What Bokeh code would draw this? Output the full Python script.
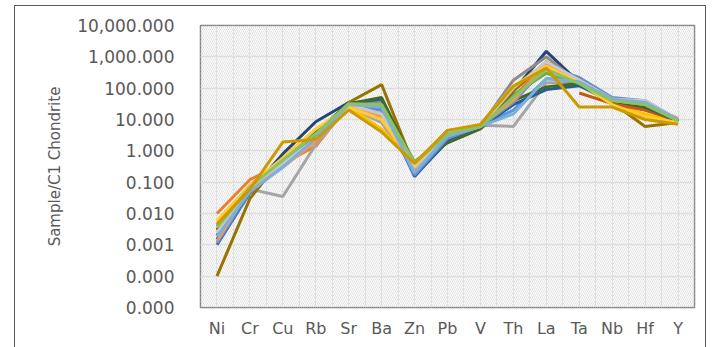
from bokeh.plotting import figure
from bokeh.models import (Range1d, FixedTicker, NumeralTickFormatter, BoxAnnotation)
from bokeh.embed import file_html
from bokeh.resources import INLINE

elements = ["Ni", "Cr", "Cu", "Rb", "Sr", "Ba", "Zn", "Pb", "V", "Th", "La", "Ta", "Nb", "Hf", "Y"]
y_ticks = [1e-5, 1e-4, 1e-3, 1e-2, 1e-1, 1, 10, 100, 1000, 10000]

nan = float("nan")
s01 = [0.0010, 0.045, 0.35, 2.5, 30, 25, 0.15, 2.2, 6.0, 40, 600, 150, 40, 30, 9]
s02 = [0.010, 0.12, 0.40, 1.4, 30, 10, 0.30, 4.5, 6.0, 50, 700, 180, 35, 20, 10]
s03 = [0.003, 0.06, 0.035, 1.6, 25, 8, 0.25, 3.0, 6.5, 6.0, 150, 150, 45, 37, 9]
s04 = [0.005, 0.06, 0.5, 4.0, 25, 5, 0.4, 3.5, 6.5, 100, 600, 150, 30, 15, 8]
s05 = [0.0012, 0.05, 0.4, 2.5, 28, 30, 0.18, 2.5, 6.0, 20, 200, 200, 45, 35, 9]
s06 = [0.003, 0.07, 0.45, 3.0, 30, 35, 0.45, 3.0, 5.5, 60, 300, 120, 35, 25, 8]
s07 = [0.002, 0.05, 0.8, 8.5, 35, 20, 0.2, 2.0, 6.0, 80, 1500, 150, 40, 25, 9]
s08 = [0.002, 0.06, 0.4, 2.0, 30, 15, 0.2, 3.5, 6.0, 30, nan, 70, 32, 20, 9]
s09 = [0.004, 0.08, 0.5, 3.0, 30, 40, 0.25, 2.5, 6.0, 180, 1000, 150, 40, 30, 9]
s10 = [0.0001, 0.03, 0.6, 3.0, 35, 130, 0.3, 3.0, 6.0, 80, 700, 150, 35, 6, 8]
s11 = [0.0015, 0.05, 0.4, 3.0, 32, 45, 0.16, 2.0, 5.5, 30, 90, 120, 40, 25, 9]
s12 = [0.003, 0.06, 0.5, 4.0, 32, 50, 0.35, 1.8, 5.0, 40, 110, 140, 40, 25, 9]
s13 = [0.002, 0.05, 0.35, 2.2, 28, 20, 0.17, 2.5, 6.0, 35, 500, 220, 50, 40, 10]
s14 = [0.0013, 0.06, 0.3, 2.0, 30, 12, 0.25, 4.0, 6.5, 40, 600, 150, 40, 30, 11]
s15 = [0.0025, 0.07, 0.4, 2.5, 30, 15, 0.3, 3.0, 6.0, 100, 700, 180, 45, 40, 10]
s16 = [0.006, 0.08, 0.6, 5.0, 25, 10, 0.35, 4.0, 7.0, 120, 500, 150, 30, 12, 8]
s17 = [0.0018, 0.05, 0.3, 2.5, 30, 25, 0.2, 3.0, 6.0, 15, 200, 160, 45, 35, 10]
s18 = [0.0035, 0.07, 0.5, 3.5, 32, 30, 0.4, 3.5, 6.0, 50, 400, 140, 40, 30, 9]
s19 = [0.0045, 0.06, 1.9, 2.3, 20, 4, 0.4, 4.5, 7.0, 115, 440, 25, 25, 10, 7]

series = [s01, s02, s03, s04, s05, s06, s07, s08, s09, s10,
          s11, s12, s13, s14, s15, s16, s17, s18, s19]
colors = ["#4472C4", "#ED7D31", "#A5A5A5", "#FFC000", "#5B9BD5", "#70AD47",
          "#264478", "#C55A11", "#8C8C8C", "#997300", "#255E91", "#43682B",
          "#698ED0", "#F1975A", "#C8C8C8", "#FFCD33", "#7CAFDD", "#8CC168", "#CC9A00"]

x_idx = list(range(len(elements)))

p = figure(width=692, height=342, output_backend="svg", toolbar_location=None,
           y_axis_type="log", x_range=Range1d(-0.5, len(elements) - 0.5),
           y_range=Range1d(y_ticks[0], y_ticks[-1]),
           min_border_left=185, min_border_right=13, min_border_top=19, min_border_bottom=41)
p.margin = (5, 0, 0, 14)
p.styles = {"border-left": "1px solid #595959", "border-top": "1px solid #595959",
            "border-right": "1px solid #595959"}

p.background_fill_color = "white"
p.border_fill_color = "white"
p.outline_line_color = "#7f7f7f"
p.outline_line_width = 1.5

hatch = BoxAnnotation(fill_alpha=0, line_alpha=0, hatch_pattern="\\", hatch_color="#e2e2e2",
                      hatch_scale=4, hatch_weight=1, level="underlay")
p.add_layout(hatch)

for vals, c in zip(series, colors):
    p.line(x_idx, vals, line_color=c, line_width=3)

p.xaxis.ticker = FixedTicker(ticks=x_idx, minor_ticks=[i - 0.5 for i in x_idx] + [len(elements) - 0.5])
p.xaxis.major_label_overrides = {i: e for i, e in enumerate(elements)}
p.yaxis.ticker = FixedTicker(ticks=y_ticks)
p.yaxis.formatter = NumeralTickFormatter(format="0,0.000")

for ax in (p.xaxis[0], p.yaxis[0]):
    ax.axis_line_color = None
    ax.major_tick_line_color = None
    ax.minor_tick_line_color = None
    ax.major_label_text_font = "DejaVu Sans"
    ax.major_label_text_color = "#595959"

p.yaxis.major_label_text_font_size = "17px"
p.xaxis.major_label_text_font_size = "16px"
p.yaxis.major_label_standoff = 20
p.xaxis.major_label_standoff = 5
p.yaxis.axis_label = "Sample/C1 Chondrite"
p.yaxis.axis_label_text_font = "DejaVu Sans"
p.yaxis.axis_label_text_font_style = "normal"
p.yaxis.axis_label_text_font_size = "15px"
p.yaxis.axis_label_text_color = "#595959"
p.yaxis.axis_label_standoff = 10

p.xgrid.grid_line_color = "#dedede"
p.xgrid.minor_grid_line_color = "#dedede"
p.ygrid.grid_line_color = "#d9d9d9"
p.xgrid.grid_line_width = 1
p.xgrid.minor_grid_line_width = 1
p.ygrid.grid_line_width = 1.5

open("out.html", "w").write(file_html(p, INLINE))
